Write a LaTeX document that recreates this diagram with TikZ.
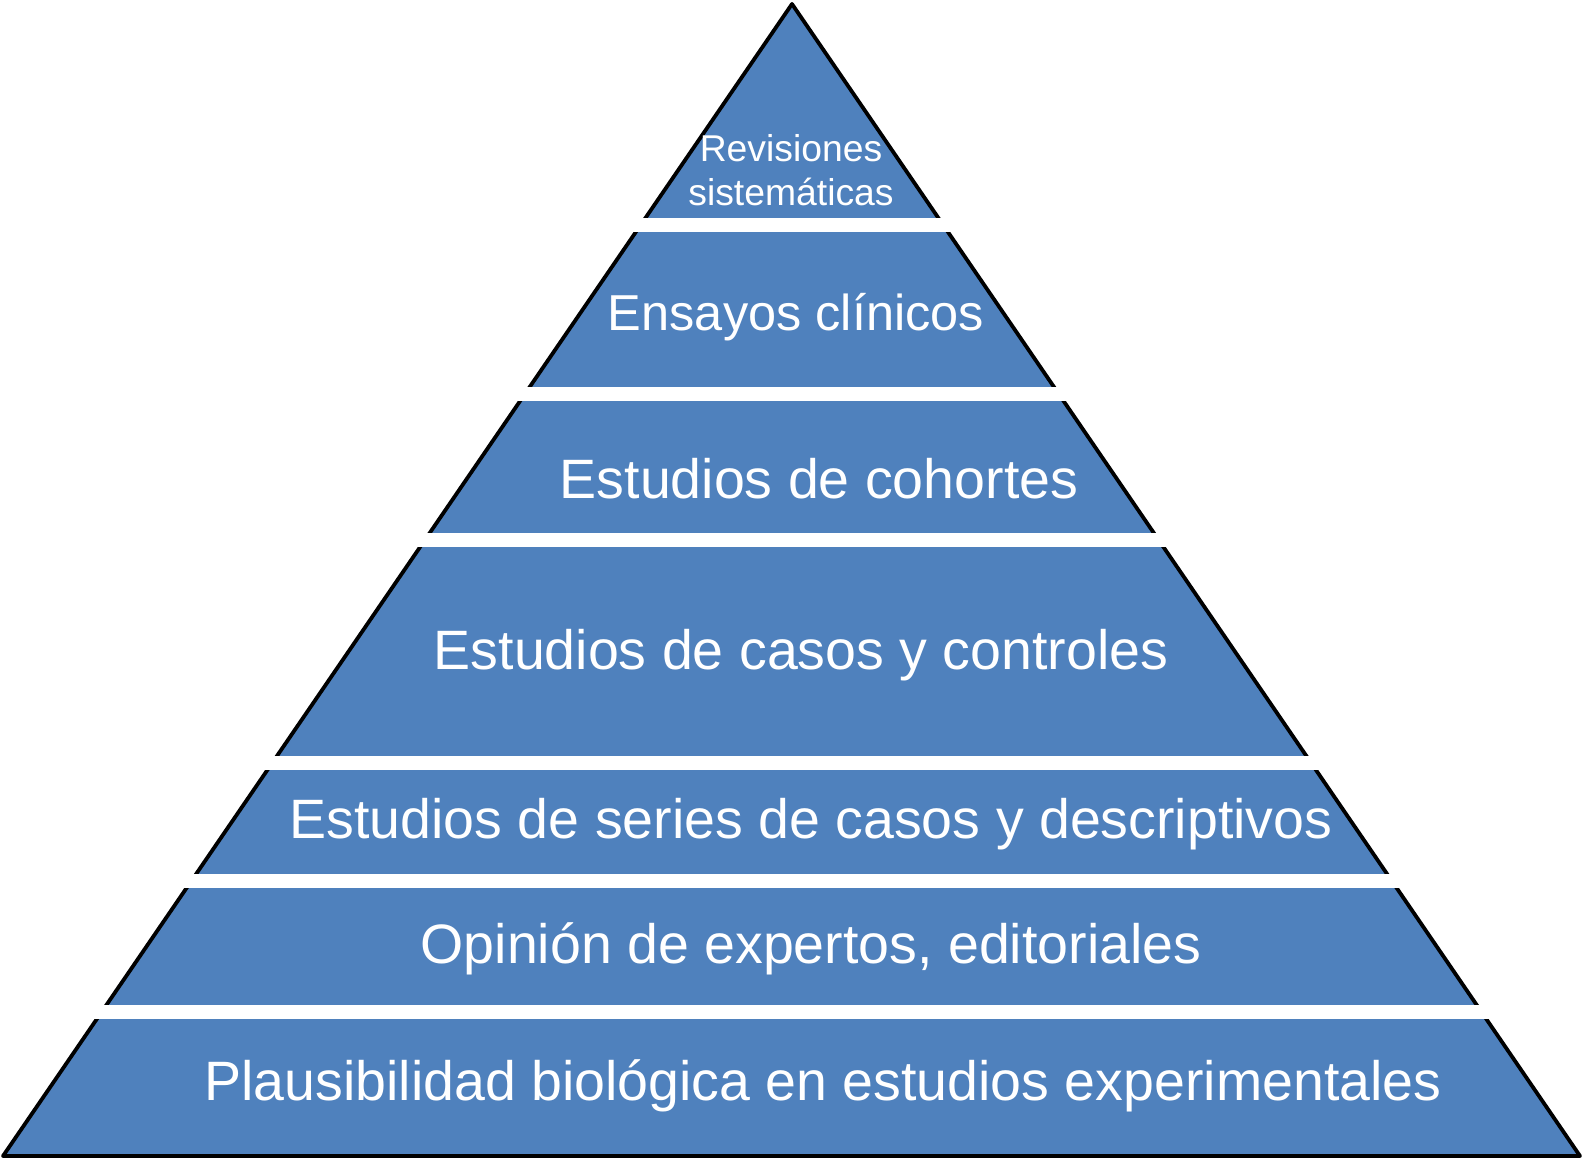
\documentclass[tikz,border=0pt]{standalone}
\usepackage{fontspec}
\setmainfont{Liberation Sans}
\definecolor{pyrblue}{RGB}{79,129,189}
\begin{document}
\begin{tikzpicture}[x=1pt,y=-1pt,
  gap/.style={fill=white,draw=none},
  big/.style={text=white,font=\fontsize{55.5}{64}\selectfont,inner sep=0pt,anchor=base},
  mid/.style={text=white,font=\fontsize{50.5}{58}\selectfont,inner sep=0pt,anchor=base},
  small/.style={text=white,font=\fontsize{37.3}{43.5}\selectfont,inner sep=0pt,align=center,anchor=center}]
\useasboundingbox (0,0) rectangle (1582,1161);
\coordinate (apex) at (792,4);
\coordinate (bl) at (3,1156);
\coordinate (br) at (1580,1156);
\draw[fill=pyrblue,line width=3.8pt,line join=round] (apex) -- (br) -- (bl) -- cycle;
\foreach \a/\b in {218/232,387/401,533/547,756/770,874/888,1005/1019}
  \fill[gap] (0,\a) rectangle (1582,\b);
\node[small] (t1) at (791,170) {Revisiones\\sistemáticas};
\node[mid] (t2) at (796,330) {Ensayos clínicos};
\node[big] (t3) at (819,498) {Estudios de cohortes};
\node[big] (t4) at (801,669) {Estudios de casos y controles};
\node[big] (t5) at (811,838) {Estudios de series de casos y descriptivos};
\node[big] (t6) at (811,963) {Opinión de expertos, editoriales};
\node[big] (t7) at (823,1100) {Plausibilidad biológica en estudios experimentales};
\end{tikzpicture}
\end{document}
